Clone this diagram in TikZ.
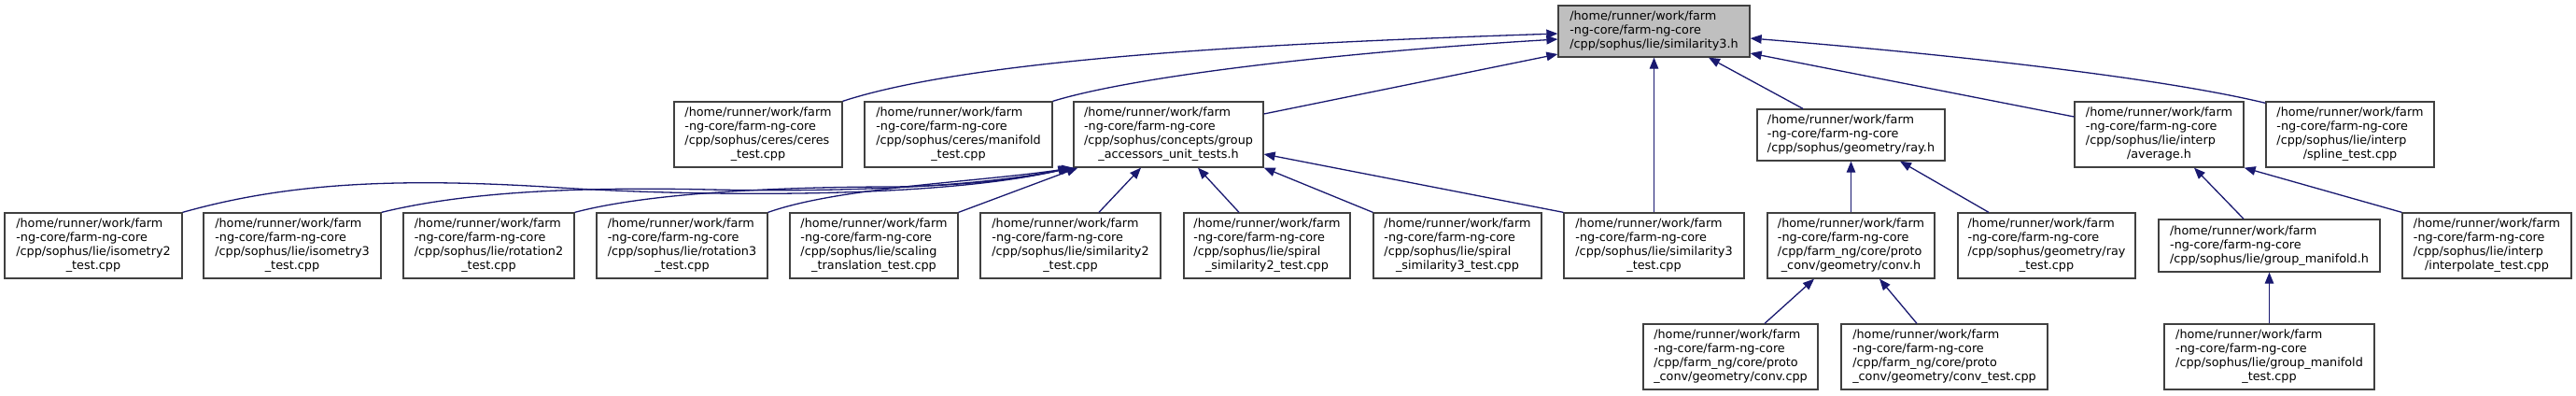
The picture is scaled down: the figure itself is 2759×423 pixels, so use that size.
\documentclass[tikz,border=0pt]{standalone}
\usepackage{fontspec}
\setmainfont{DejaVu Sans}
\usetikzlibrary{arrows.meta}
\definecolor{edgeblue}{RGB}{25,25,112}
\definecolor{rootgray}{RGB}{191,191,191}
\newcommand{\fhead}{/home/runner/work/farm\\-ng-core/farm-ng-core}
\newcommand{\flines}[2]{\begin{tabular}{@{}l@{}}#1\\\multicolumn{1}{@{}c@{}}{#2}\end{tabular}}
\tikzset{
  filebox/.style={draw=black!75, line width=1.3pt, fill=white, inner sep=0pt, minimum height=70pt},
  dep/.style={edgeblue, line width=1.3pt, -{Triangle[length=12pt, width=9.5pt]}}
}

\begin{document}
\begin{tikzpicture}[x=1pt, y=-1pt, font=\fontsize{12.8}{15}\selectfont]
  \useasboundingbox (0,0) rectangle (2759,423);

  \node[filebox, fill=rootgray, minimum width=205pt, minimum height=55pt] (root) at (1771.5,33.5) {\flines{\fhead}{/cpp/sophus/lie/similarity3.h}};

  \node[filebox, minimum width=180pt] (ceres) at (812,144) {\flines{\fhead\\/cpp/sophus/ceres/ceres}{\_test.cpp}};
  \node[filebox, minimum width=201pt] (manif) at (1026.5,144) {\flines{\fhead\\/cpp/sophus/ceres/manifold}{\_test.cpp}};
  \node[filebox, minimum width=203pt] (ga) at (1251.5,144) {\flines{\fhead\\/cpp/sophus/concepts/group}{\_accessors\_unit\_tests.h}};
  \node[filebox, minimum width=201pt, minimum height=55pt] (rayh) at (1982.5,144.5) {\flines{\fhead}{/cpp/sophus/geometry/ray.h}};
  \node[filebox, minimum width=181pt] (avg) at (2312.5,144) {\flines{\fhead\\/cpp/sophus/lie/interp}{/average.h}};
  \node[filebox, minimum width=180pt] (spline) at (2517,144) {\flines{\fhead\\/cpp/sophus/lie/interp}{/spline\_test.cpp}};

  \node[filebox, minimum width=190pt] (iso2) at (100,263) {\flines{\fhead\\/cpp/sophus/lie/isometry2}{\_test.cpp}};
  \node[filebox, minimum width=190pt] (iso3) at (313,263) {\flines{\fhead\\/cpp/sophus/lie/isometry3}{\_test.cpp}};
  \node[filebox, minimum width=183pt] (rot2) at (523.5,263) {\flines{\fhead\\/cpp/sophus/lie/rotation2}{\_test.cpp}};
  \node[filebox, minimum width=183pt] (rot3) at (730.5,263) {\flines{\fhead\\/cpp/sophus/lie/rotation3}{\_test.cpp}};
  \node[filebox, minimum width=180pt] (scal) at (936,263) {\flines{\fhead\\/cpp/sophus/lie/scaling}{\_translation\_test.cpp}};
  \node[filebox, minimum width=193pt] (sim2) at (1146.5,263) {\flines{\fhead\\/cpp/sophus/lie/similarity2}{\_test.cpp}};
  \node[filebox, minimum width=178pt] (ssim2) at (1357,263) {\flines{\fhead\\/cpp/sophus/lie/spiral}{\_similarity2\_test.cpp}};
  \node[filebox, minimum width=180pt] (ssim3) at (1561,263) {\flines{\fhead\\/cpp/sophus/lie/spiral}{\_similarity3\_test.cpp}};
  \node[filebox, minimum width=193pt] (sim3t) at (1771.5,263) {\flines{\fhead\\/cpp/sophus/lie/similarity3}{\_test.cpp}};
  \node[filebox, minimum width=179pt] (convh) at (1982.5,263) {\flines{\fhead\\/cpp/farm\_ng/core/proto}{\_conv/geometry/conv.h}};
  \node[filebox, minimum width=190pt] (rayt) at (2192,263) {\flines{\fhead\\/cpp/sophus/geometry/ray}{\_test.cpp}};
  \node[filebox, minimum width=237pt, minimum height=56pt] (gmh) at (2430.5,263) {\flines{\fhead}{/cpp/sophus/lie/group\_manifold.h}};
  \node[filebox, minimum width=181pt] (interp) at (2663.5,263) {\flines{\fhead\\/cpp/sophus/lie/interp}{/interpolate\_test.cpp}};

  \node[filebox, minimum width=187pt] (convcpp) at (1853.5,382) {\flines{\fhead\\/cpp/farm\_ng/core/proto}{\_conv/geometry/conv.cpp}};
  \node[filebox, minimum width=221pt] (convtest) at (2082.5,382) {\flines{\fhead\\/cpp/farm\_ng/core/proto}{\_conv/geometry/conv\_test.cpp}};
  \node[filebox, minimum width=225pt] (gmtest) at (2430.5,382) {\flines{\fhead\\/cpp/sophus/lie/group\_manifold}{\_test.cpp}};

  \draw[dep] (ceres.north east) .. controls (1050,60) and (1400,45) .. ([yshift=-2.5pt]root.west);
  \draw[dep] (manif.north east) .. controls (1220,80) and (1450,55) .. ([yshift=-8.5pt]root.west);
  \draw[dep] ([yshift=22pt]ga.east) -- ([yshift=-24.5pt]root.west);
  \draw[dep] (sim3t.north) -- (root.south);
  \draw[dep] ([xshift=-51.5pt]rayh.north) -- ([xshift=58.5pt]root.south);
  \draw[dep] ([yshift=19pt]avg.west) -- ([yshift=-23.5pt]root.east);
  \draw[dep] ([yshift=-2pt]spline.north west) .. controls (2300,80) and (2050,55) .. ([yshift=-7.5pt]root.east);

  \draw[dep] (convh.north) -- (rayh.south);
  \draw[dep] ([xshift=-62pt]rayt.north) -- ([xshift=52.5pt]rayh.south);
  \draw[dep] ([xshift=36.5pt]convcpp.north) -- ([xshift=-39.5pt]convh.south);
  \draw[dep] ([xshift=-29.5pt]convtest.north) -- ([xshift=30.5pt]convh.south);
  \draw[dep] ([xshift=-27.5pt]gmh.north) -- ([xshift=37.5pt]avg.south);
  \draw[dep] (interp.north west) -- (avg.south east);
  \draw[dep] (gmtest.north) -- (gmh.south);

  \draw[dep] (iso2.north east) .. controls (310,195) and (430,190) .. (600,201) .. controls (760,211) and (1010,212) .. ([xshift=-4pt]ga.south west);
  \draw[dep] (iso3.north east) .. controls (500,205) and (620,200) .. (760,203) .. controls (900,206) and (1050,200) .. ([xshift=-3pt]ga.south west);
  \draw[dep] (rot2.north east) .. controls (700,205) and (850,200) .. (960,200) .. controls (1050,198) and (1100,190) .. ([xshift=-1pt]ga.south west);
  \draw[dep] (rot3.north east) .. controls (900,200) and (1050,195) .. (ga.south west);
  \draw[dep] (scal.north east) -- ([xshift=5pt]ga.south west);
  \draw[dep] ([xshift=30.5pt]sim2.north) -- ([xshift=-29.5pt]ga.south);
  \draw[dep] ([xshift=-30pt]ssim2.north) -- ([xshift=31.5pt]ga.south);
  \draw[dep] (ssim3.north west) -- (ga.south east);
  \draw[dep] (sim3t.north west) -- ([yshift=-21pt]ga.east);
\end{tikzpicture}
\end{document}
